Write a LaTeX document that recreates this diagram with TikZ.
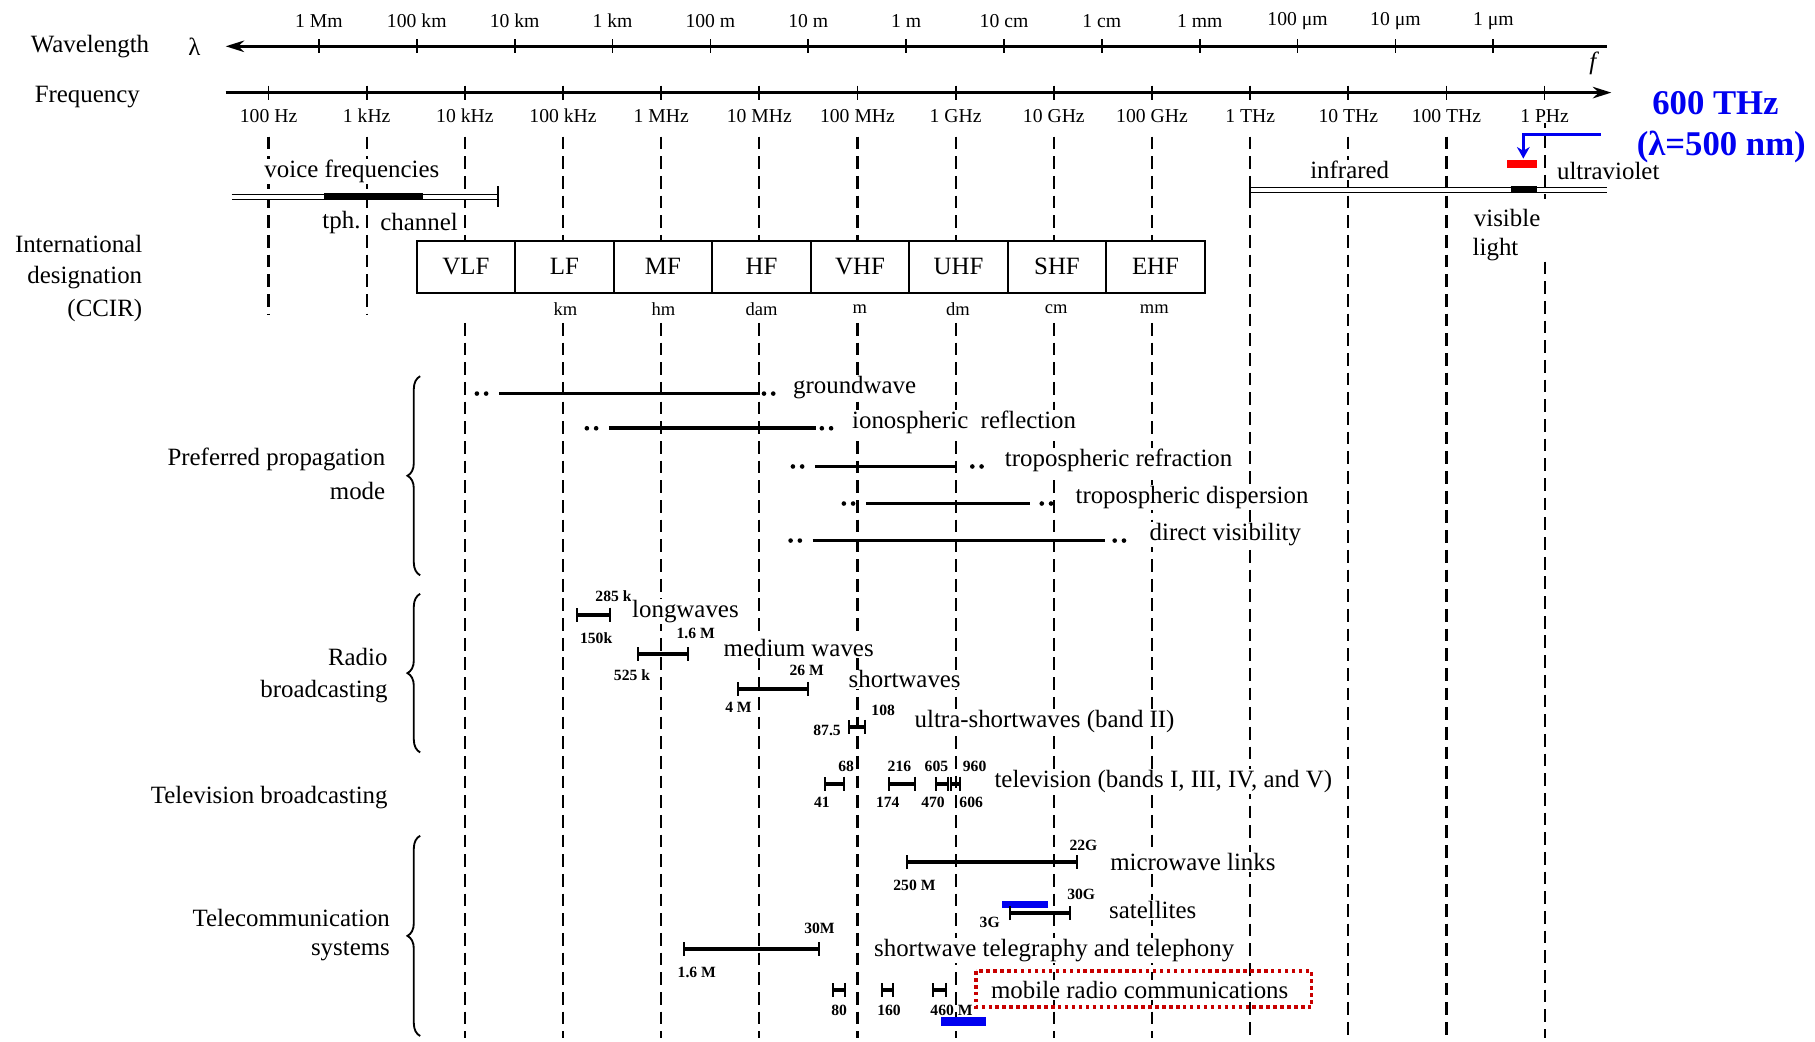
\documentclass[tikz,border=0pt]{standalone}
\usepackage{fontspec}
\setmainfont{Liberation Serif}
\usetikzlibrary{arrows.meta,decorations.pathreplacing}
\newcommand\szL{\fontsize{21.5}{24}\selectfont}
\newcommand\szM{\fontsize{17}{20}\selectfont}
\newcommand\szU{\fontsize{16}{18}\selectfont}
\newcommand\szS{\fontsize{13.5}{15}\selectfont\bfseries}
\definecolor{hiblue}{RGB}{0,0,240}
\definecolor{dotred}{RGB}{200,0,0}
\begin{document}
\begin{tikzpicture}[x=1pt,y=-1pt,
  lab/.style={font=\szL, inner sep=1pt, fill=white},
  axlab/.style={font=\szM, inner sep=1pt},
  unit/.style={font=\szU, inner sep=1pt, fill=white},
  num/.style={font=\szS, inner sep=0.5pt},
  grid/.style={line width=1.9pt, dash pattern=on 11pt off 6pt},
  axis/.style={line width=2.2pt},
  band/.style={line width=3.6pt, {Bar[width=12pt,line width=1.6pt]}-{Bar[width=12pt,line width=1.6pt]}},
  prop/.style={line width=3.2pt},
  cell/.style={draw, line width=1.6pt, minimum width=85.1pt, minimum height=45pt, inner sep=0pt, font=\szL},
  hilite/.style={fill=hiblue},
]
\useasboundingbox (0,0) rectangle (1568,900);

% ---------------- grid lines ----------------
\foreach \k in {0,1} {\pgfmathsetmacro\xx{232+84.8*\k}
  \draw[grid] (\xx,118) -- (\xx,272);}
\foreach \k in {2,...,9} {\pgfmathsetmacro\xx{232+84.8*\k}
  \draw[grid] (\xx,118) -- (\xx,208);
  \draw[grid] (\xx,279) -- (\xx,897);}
\foreach \k in {10,11,12} {\pgfmathsetmacro\xx{232+84.8*\k}
  \draw[grid] (\xx,118) -- (\xx,897);}
\draw[grid] (1334.4,100) -- (1334.4,172);
\draw[grid] (1334.4,226) -- (1334.4,897);

% ---------------- axes ----------------
\node[font=\szL, anchor=east, inner sep=0pt] (wl) at (129,40) {Wavelength};
\node[font=\szL, inner sep=0pt] (lam) at (168,40) {λ};
\coordinate (wlR) at (1388,40);
\coordinate (wlL) at (195,40);
\draw[axis, -{Stealth[length=16pt,width=10pt]}] (wlR) -- (wlL);
\foreach \k/\t in {0/1 Mm,1/100 km,2/10 km,3/1 km,4/100 m,5/10 m,6/1 m,7/10 cm,8/1 cm,9/1 mm,10/100 μm,11/10 μm,12/1 μm} {
  \pgfmathsetmacro\xx{275.5+84.55*\k}
  \draw[line width=1.5pt] (\xx,34) -- (\xx,46);
  \node[axlab] at (\xx,18) {\t};}

\node[font=\szL, anchor=east, inner sep=0pt] (fr) at (121,84) {Frequency};
\node[font=\szL\itshape, inner sep=0pt] (fsym) at (1376,55) {f};
\coordinate (frL) at (195,80);
\coordinate (frR) at (1392,80);
\draw[axis, -{Stealth[length=16pt,width=10pt]}] (frL) -- (frR);
\foreach \k/\t in {0/100 Hz,1/1 kHz,2/10 kHz,3/100 kHz,4/1 MHz,5/10 MHz,6/100 MHz,7/1 GHz,8/10 GHz,9/100 GHz,10/1 THz,11/10 THz,12/100 THz,13/1 PHz} {
  \pgfmathsetmacro\xx{232+84.8*\k}
  \draw[line width=1.5pt] (\xx,74) -- (\xx,86);
  \node[axlab, fill=white] at (\xx,100) {\t};}

% ---------------- voice frequencies ----------------
\node[lab] (voice) at (304,148) {voice frequencies};
\coordinate (vL) at (200,170);
\coordinate (vR) at (430,170);
\draw[line width=1.3pt, double, double distance=3pt] (vL) -- (vR);
\draw[line width=1.6pt] (430,161) -- (430,179);
\draw[line width=6pt] (280,170) -- (365,170);
\node[lab, fill=none] (tph) at (295,192) {tph.};
\node[lab, fill=none] (chan) at (362,192) {channel};

% ---------------- infrared / visible / ultraviolet ----------------
\node[lab] (ir) at (1166,147) {infrared};
\node[lab, anchor=west, fill=none] (uv) at (1344,148) {ultraviolet};
\coordinate (irL) at (1080,164);
\coordinate (irR) at (1388,164);
\draw[line width=1.3pt, double, double distance=3pt] (irL) -- (irR);
\draw[line width=1.6pt] (1080,155) -- (1080,173);
\draw[line width=6pt] (1305,164) -- (1328,164);
\node[lab, fill=none] (vis) at (1302,188) {visible};
\node[lab, fill=none] (light) at (1292,216) {light};

% highlight 600 THz
\fill[red] (1302,138) rectangle (1328,145);
\coordinate (hA) at (1383,116);
\coordinate (hB) at (1316,116);
\coordinate (hC) at (1316,137);
\draw[hiblue, line width=3pt, -{Stealth[length=10pt,width=11pt]}] (hA) -- (hB) -- (hC);
\node[font=\fontsize{30}{32}\selectfont\bfseries, text=hiblue, inner sep=0pt] (thz) at (1482,89) {600 THz};
\node[font=\fontsize{30}{32}\selectfont\bfseries, text=hiblue, inner sep=0pt] (lnm) at (1487,127) {(λ=500 nm)};

% ---------------- CCIR ----------------
\node[lab, anchor=east, fill=none] (intl) at (124,211) {International};
\node[lab, anchor=east, fill=none] (desig) at (124,240) {designation};
\node[lab, anchor=east, fill=none] (ccir) at (124,268) {(CCIR)};
\foreach \i/\t in {0/VLF,1/LF,2/MF,3/HF,4/VHF,5/UHF,6/SHF,7/EHF} {
  \pgfmathsetmacro\xx{360+85.1*\i+42.55}
  \node[cell] (c\i) at (\xx,230.5) {\t};}
\foreach \k/\t in {3/km,4/hm,5/dam,6/m,7/dm,8/cm,9/mm} {
  \pgfmathsetmacro\xx{232+84.8*\k+2}
  \node[unit] at (\xx,267) {\t};}

% ---------------- propagation modes ----------------
\node[lab, anchor=east, fill=none] (ppm1) at (334,397) {Preferred propagation};
\node[lab, anchor=east, fill=none] (ppm2) at (334,424) {mode};
\draw[line width=1.6pt, decorate, decoration={brace, amplitude=11pt}] (363,497) -- (363,325);
\foreach \a/\b/\c/\d/\y/\t in {
  412/655/660/684/340/groundwave,
  507/705/710/735/370/{ionospheric\ \ reflection},
  685/825/840/867/403/tropospheric refraction,
  729/890/900/928/435/tropospheric dispersion,
  683/955/963/992/467/direct visibility} {
  \fill (\a,\y) circle (2pt);
  \fill (\a+8,\y) circle (2pt);
  \draw[prop] (\a+19,\y) -- (\b,\y);
  \fill (\c,\y) circle (2pt);
  \fill (\c+8,\y) circle (2pt);
  \node[lab, anchor=west] at (\d,\y-5) {\t};}

% ---------------- radio broadcasting ----------------
\node[lab, anchor=east, fill=none] (rb1) at (336,568) {Radio};
\node[lab, anchor=east, fill=none] (rb2) at (336,597) {broadcasting};
\draw[line width=1.6pt, decorate, decoration={brace, amplitude=11pt}] (363,650) -- (363,513);

\draw[band] (498,531) -- (528,531);
\node[num] at (530,515) {285 k};
\node[num] at (515,551) {150k};
\node[lab, anchor=west] at (545,528) {longwaves};

\draw[band] (550,565) -- (595,565);
\node[num] at (601,547) {1.6 M};
\node[num] at (546,583) {525 k};
\node[lab, anchor=west] at (624,560) {medium waves};

\draw[band] (637,595) -- (699,595);
\node[num] at (697,579) {26 M};
\node[num] at (638,611) {4 M};
\node[lab, anchor=west] at (732,587) {shortwaves};

\draw[band] (733,628) -- (748,628);
\node[num, anchor=east] at (727,631) {87.5};
\node[num] at (763,614) {108};
\node[lab, anchor=west] at (789,623) {ultra-shortwaves (band II)};

% ---------------- television ----------------
\node[lab, anchor=east, fill=none] (tvb) at (336,689) {Television broadcasting};
\draw[band] (712,677) -- (730,677);
\draw[band] (767,677) -- (791,677);
\draw[band] (808,677) -- (820,677);
\draw[band] (821,677) -- (830,677);
\foreach \x/\t in {731/68,777/216,809/605,842/960} {\node[num] at (\x,662) {\t};}
\foreach \x/\t in {710/41,767/174,806/470,839/606} {\node[num] at (\x,693) {\t};}
\node[lab, anchor=west] at (858,675) {television (bands I, III, IV, and V)};

% ---------------- telecommunication ----------------
\node[lab, anchor=east, fill=none] (tc1) at (338,793) {Telecommunication};
\node[lab, anchor=east, fill=none] (tc2) at (338,822) {systems};
\draw[line width=1.6pt, decorate, decoration={brace, amplitude=11pt}] (363,895) -- (363,722);

\draw[band] (783,745) -- (931,745);
\node[num] at (936,730) {22G};
\node[num] at (790,765) {250 M};
\node[lab, anchor=west] at (958,745) {microwave links};

\fill[hilite] (866,778) rectangle (905,784);
\draw[band] (872,789) -- (925,789);
\node[num] at (934,773) {30G};
\node[num] at (855,797) {3G};
\node[lab, anchor=west] at (957,786) {satellites};

\draw[band] (590,820) -- (708,820);
\node[num] at (708,802) {30M};
\node[num] at (602,840) {1.6 M};
\node[lab, anchor=west] at (754,821) {shortwave telegraphy and telephony};

\draw[band] (719,855) -- (731,855);
\draw[band] (761,855) -- (772,855);
\draw[band] (805,855) -- (818,855);
\node[num] at (725,873) {80};
\node[num] at (768,873) {160};
\node[num] at (822,873) {460 M};
\fill[hilite] (813,879) rectangle (852,886);
\node[lab, anchor=west] (mob) at (855,855) {mobile radio communications};
\draw[dotred, line width=3pt, dash pattern=on 3pt off 3pt] (843,839) rectangle (1133,870);
\end{tikzpicture}
\end{document}
